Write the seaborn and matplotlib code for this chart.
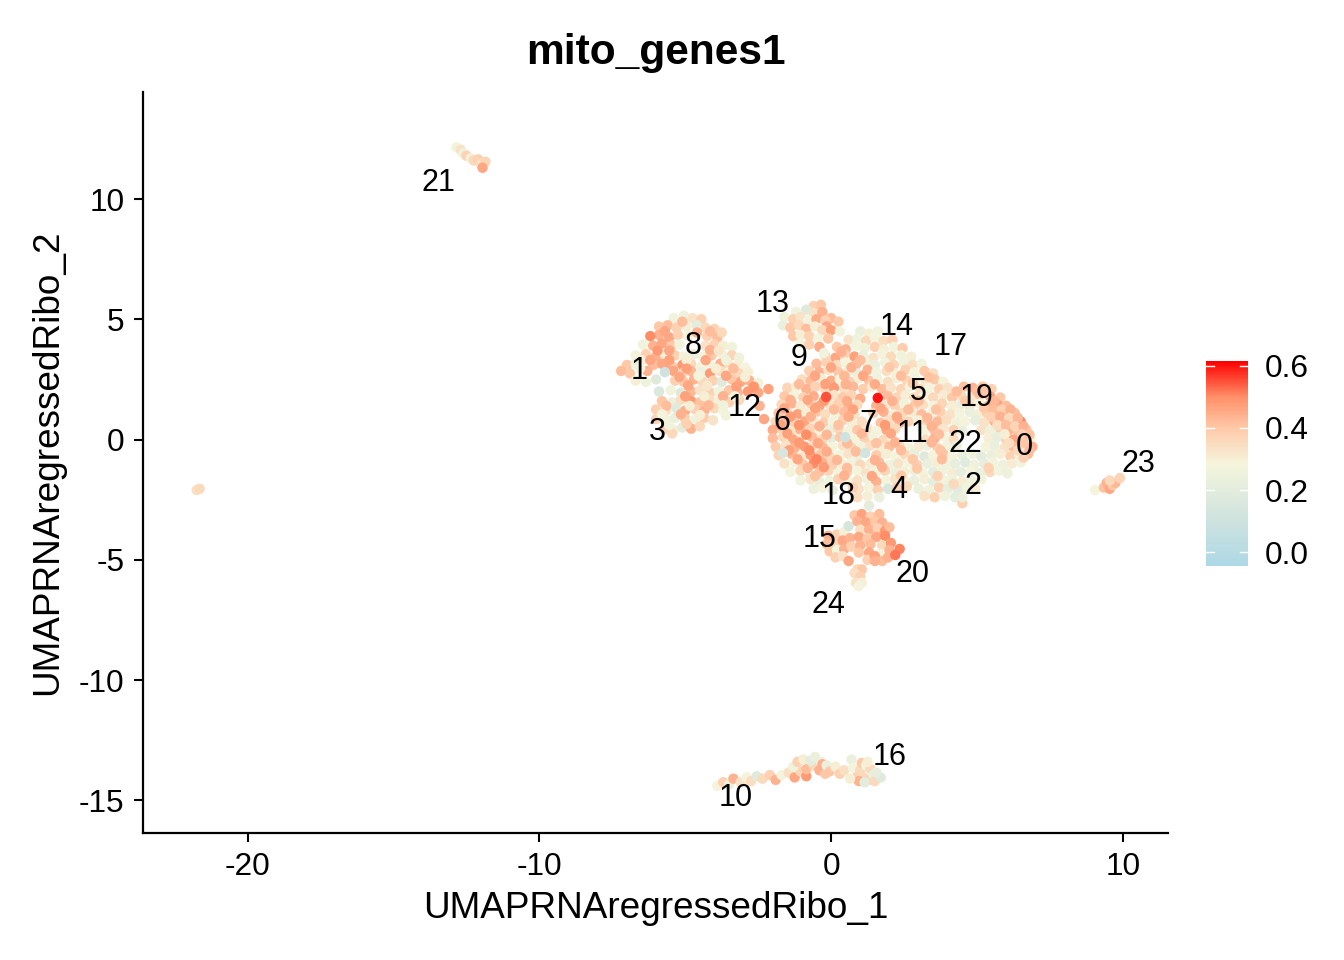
import pandas as pd
import matplotlib
matplotlib.use("Agg")
import matplotlib.pyplot as plt
from matplotlib.cm import ScalarMappable
from matplotlib.colors import LinearSegmentedColormap, Normalize
import seaborn as sns

# (umap_1, umap_2, mito score in percent)
central_blob = [
    (1.0,4.5,24),(1.3,4.4,30),(1.6,4.5,27),
    (.6,4.15,33),(.9,4.2,26),(1.2,4.1,36),(1.5,4.25,28),(1.8,4.1,35),(2.1,4.15,38),
    (.2,3.85,40),(.5,3.75,44),(.85,3.9,28),(1.15,3.8,26),(1.5,3.85,38),(1.8,3.75,30),(2.15,3.85,27),(2.45,3.8,39),
    (-.2,3.5,36),(.15,3.4,46),(.45,3.55,38),(.8,3.45,47),(1.1,3.5,24),(1.45,3.4,33),(1.75,3.55,28),(2.05,3.45,36),(2.4,3.5,27),(2.75,3.45,30),
    (-.5,3.15,42),(-.15,3.2,38),(.2,3.1,35),(.5,3.2,28),(.85,3.1,42),(1.2,3.2,30),(1.5,3.1,24),(1.85,3.2,27),(2.15,3.1,37),(2.5,3.2,26),(2.8,3.1,35),(3.1,3.15,27),
    (-.75,2.85,38),(-.4,2.8,44),(-.1,2.9,33),(.25,2.8,40),(.6,2.85,31),(.9,2.75,22),(1.25,2.9,44),(1.55,2.8,27),(1.9,2.85,34),(2.2,2.75,29),(2.55,2.9,38),(2.85,2.8,28),(3.2,2.85,40),(3.5,2.75,34),
    (-1.0,2.5,35),(-.7,2.45,42),(-.35,2.55,31),(0,2.45,45),(.3,2.5,28),(.65,2.4,38),(.95,2.55,30),(1.3,2.45,41),(1.6,2.5,26),(1.95,2.4,35),(2.25,2.55,30),(2.6,2.45,37),(2.9,2.5,27),(3.25,2.4,32),(3.55,2.5,40),(3.85,2.4,29),
    (-1.5,2.15,37),(-1.2,2.2,30),(-.85,2.1,44),(-.55,2.2,38),(-.2,2.1,36),(.1,2.15,48),(.45,2.1,34),(.75,2.2,43),(1.1,2.1,39),(1.4,2.2,31),(1.75,2.1,42),(2.05,2.15,33),(2.4,2.1,37),(2.7,2.2,27),(3.05,2.1,34),(3.35,2.15,28),(3.7,2.1,38),(4.0,2.15,33),(4.55,2.2,41),(4.85,2.15,44),(5.2,2.2,40),(5.5,2.1,38),
    (-1.6,1.8,40),(-1.25,1.85,28),(-.95,1.75,38),(-.6,1.8,45),(.1,1.85,33),(.4,1.75,40),(.7,1.85,37),(1.0,1.7,45),(1.95,1.8,42),(2.25,1.75,37),(2.55,1.85,30),(2.85,1.75,35),(3.2,1.85,29),(3.5,1.75,36),(3.85,1.85,31),(4.15,1.75,40),(4.45,1.85,36),(4.8,1.75,32),(5.1,1.85,42),(5.45,1.8,47),(5.8,1.75,40),
    (-1.7,1.45,36),(-1.35,1.5,44),(-1.05,1.4,31),(-.7,1.5,39),(-.4,1.4,46),(-.05,1.45,33),(.25,1.5,38),(.6,1.4,44),(.9,1.45,36),(1.55,1.4,44),(1.9,1.45,32),(2.2,1.4,38),(2.5,1.5,27),(2.85,1.4,40),(3.15,1.45,34),(3.5,1.4,28),(3.8,1.5,37),(4.15,1.4,30),(4.45,1.45,24),(4.75,1.4,33),(5.1,1.5,29),(5.4,1.4,45),(5.7,1.45,48),(6.0,1.4,42),
    (-1.8,1.1,41),(-1.5,1.15,34),(-1.15,1.05,47),(-.85,1.1,30),(-.5,1.15,40),(-.2,1.05,35),(.15,1.1,27),(.45,1.15,42),(.8,1.05,33),(1.45,1.1,38),(1.8,1.15,44),(2.15,1.05,30),(2.45,1.1,36),(2.8,1.15,31),(3.1,1.05,42),(3.45,1.1,26),(3.75,1.15,38),(4.1,1.05,33),(4.4,1.1,28),(4.75,1.15,24),(5.05,1.05,30),(5.35,1.1,38),(5.7,1.15,50),(6.0,1.05,46),(6.3,1.1,41),
    (-1.9,.75,36),(-1.55,.8,43),(-1.25,.7,38),(-.9,.75,46),(-.6,.8,31),(-.25,.7,39),(.05,.75,28),(.4,.8,38),(.7,.7,30),(1.05,.75,35),(1.7,.7,41),(2.0,.8,34),(2.35,.7,44),(2.65,.75,37),(3.0,.8,30),(3.3,.7,38),(3.65,.75,43),(3.95,.8,35),(4.3,.7,26),(4.6,.75,29),(4.95,.8,22),(5.25,.7,33),(5.6,.75,44),(5.9,.8,40),(6.2,.7,47),(6.5,.75,51),
    (-2.0,.4,45),(-1.7,.45,38),(-1.35,.35,33),(-1.05,.4,44),(-.7,.45,37),(-.4,.35,29),(-.05,.4,24),(.25,.45,36),(.6,.35,27),(.9,.4,40),(1.25,.45,33),(1.55,.35,28),(1.9,.4,46),(2.2,.45,36),(3.2,.4,29),(3.55,.35,41),(3.85,.45,32),(4.2,.4,38),(4.5,.35,23),(5.15,.4,33),(5.45,.35,25),(5.8,.45,38),(6.1,.4,44),(6.4,.35,41),(6.7,.4,40),
    (-2.0,.05,42),(-1.65,.1,36),(-1.3,0,46),(-1.0,.05,31),(-.65,.1,42),(-.3,0,37),(0,.05,20),(.3,.1,40),(.8,0,28),(1.15,.05,38),(1.45,.1,27),(1.8,0,36),(2.1,.05,30),(3.25,0,34),(3.55,.05,44),(3.9,.1,28),(4.2,0,35),(5.4,.05,30),(5.7,.1,22),(6.0,0,37),(6.85,.05,28),(6.5,.1,42),(6.25,0,46),
    (-1.9,-.3,39),(-1.55,-.25,33),(-1.25,-.35,44),(-.9,-.3,48),(-.6,-.25,36),(-.25,-.35,43),(.05,-.3,29),(.4,-.25,33),(.7,-.35,38),(1.05,-.3,26),(1.35,-.25,34),(1.7,-.35,30),(2.0,-.3,42),(2.35,-.25,36),(2.65,-.35,27),(3.0,-.3,31),(3.3,-.25,25),(3.65,-.35,38),(3.95,-.3,27),(4.3,-.25,24),(5.3,-.3,29),(5.6,-.25,24),(5.95,-.35,33),(6.25,-.3,42),(6.9,-.3,44),
    (-1.8,-.65,37),(-1.35,-.6,43),(-1.0,-.7,32),(-.7,-.65,47),(-.35,-.6,40),(-.05,-.7,36),(.3,-.65,28),(.6,-.6,33),(.9,-.7,24),(1.55,-.65,39),(1.9,-.6,30),(2.2,-.7,28),(2.55,-.65,36),(2.85,-.6,23),(3.2,-.7,18),(3.5,-.65,29),(3.85,-.6,40),(4.15,-.7,27),(4.5,-.65,22),(4.85,-.6,26),(5.15,-.7,20),(5.5,-.65,24),(5.8,-.6,30),(6.15,-.7,38),(6.45,-.65,29),(6.75,-.6,42),
    (-1.6,-1.0,33),(-1.25,-.95,28),(-.95,-1.05,40),(-.6,-1.0,50),(-.3,-.95,44),(.05,-1.05,38),(.35,-1.0,30),(.7,-.95,27),(1.0,-1.05,36),(1.35,-1.0,31),(1.65,-.95,42),(2.0,-1.05,26),(2.3,-1.0,33),(2.65,-.95,28),(2.95,-1.05,37),(3.3,-1.0,24),(3.6,-.95,30),(3.95,-1.05,27),(4.25,-1.0,22),(4.6,-.95,19),(4.9,-1.05,25),(5.25,-1.0,22),(5.55,-.95,28),(5.9,-1.05,25),(6.2,-1.0,31),(6.5,-.95,27),
    (-1.4,-1.35,28),(-1.05,-1.3,36),(-.75,-1.4,24),(-.4,-1.35,41),(-.1,-1.3,37),(.25,-1.4,27),(.55,-1.35,38),(.9,-1.3,29),(1.2,-1.4,33),(1.55,-1.35,26),(1.85,-1.3,37),(2.2,-1.4,24),(2.5,-1.35,30),(2.85,-1.3,25),(3.15,-1.4,28),(3.5,-1.35,20),(3.8,-1.3,26),(4.15,-1.4,31),(4.45,-1.35,22),(4.8,-1.3,28),(5.1,-1.4,24),(5.45,-1.35,36),(5.75,-1.3,27),(6.05,-1.4,25),
    (-1.05,-1.7,27),(-.7,-1.65,33),(-.4,-1.75,22),(-.05,-1.7,26),(.25,-1.65,38),(.6,-1.75,28),(.9,-1.7,34),(1.25,-1.65,26),(1.55,-1.75,44),(1.9,-1.7,28),(2.2,-1.65,33),(2.55,-1.75,27),(2.85,-1.7,24),(3.2,-1.65,30),(3.5,-1.75,21),(3.85,-1.7,27),(4.15,-1.65,25),(4.5,-1.75,31),(4.8,-1.7,26),(5.15,-1.65,27),
    (-.6,-2.05,25),(-.3,-2.0,29),(.05,-2.1,22),(.95,-2.05,33),(1.3,-2.0,28),(1.6,-2.1,38),(1.95,-2.05,15),(2.25,-2.0,38),(3.0,-2.05,24),(3.35,-2.1,26),(3.7,-2.0,38),(4.0,-2.05,22),(4.35,-2.1,20),(4.65,-2.0,27),(4.95,-2.05,30),
    (.9,-2.4,35),(1.25,-2.35,30),(1.65,-2.4,24),(3.2,-2.35,33),(3.55,-2.4,38),(3.9,-2.35,26),(4.25,-2.4,21),(4.5,-2.65,38),(4.5,-2.4,24),(1.3,-2.75,20),
]
# warmer cells sitting in the gaps of the central blob
central_warm = [
    (.35,3.65,44),(1.0,3.3,42),(.0,3.0,46),(.7,3.0,44),(2.0,3.0,40),(-.55,2.65,46),(.45,2.65,43),(1.1,2.65,46),(2.4,2.65,42),(3.35,2.6,41),
    (-1.1,2.3,42),(-.2,2.3,47),(.5,2.3,44),(1.5,2.3,45),(2.8,2.35,40),(4.3,2.0,42),(5.0,2.0,42),(5.35,1.95,40),
    (-1.4,1.65,44),(-.8,1.65,46),(-.25,1.6,48),(.55,1.6,45),(2.1,1.6,44),(3.0,1.6,42),(4.6,1.6,40),(5.6,1.6,43),(5.25,1.3,40),
    (-1.6,1.3,46),(-.55,1.3,47),(.1,1.25,42),(.75,1.25,47),(1.7,1.3,46),(2.65,1.25,42),(3.6,1.25,41),(5.55,1.25,42),(5.85,1.25,38),(6.15,1.25,44),
    (-1.4,.95,48),(-.7,.95,44),(.6,.95,45),(2.25,.95,46),(3.3,.9,43),(5.5,.95,38),(5.8,.95,44),(6.1,.9,36),(6.4,.9,43),
    (-1.75,.6,47),(-1.1,.6,49),(-.4,.55,44),(.25,.6,41),(1.85,.6,48),(3.45,.55,44),(5.7,.6,34),(6.0,.6,42),(6.3,.55,37),(6.6,.55,44),
    (-1.5,.25,47),(-.85,.2,50),(-.15,.2,43),(1.05,.25,43),(2.05,.25,46),(3.7,.22,42),(5.95,.22,30),(6.55,.22,38),(6.8,.2,41),
    (-1.1,-.12,48),(-.45,-.15,46),(.55,-.15,42),(1.55,-.15,41),(2.2,-.12,44),(3.45,-.12,43),(6.1,-.15,34),(6.6,-.15,40),(6.8,-.45,42),
    (-1.45,-.45,47),(-.75,-.45,50),(-.15,-.5,45),(.85,-.5,42),(2.4,-.45,42),(3.75,-.45,41),(6.4,-.45,36),(6.6,-.75,38),
    (-1.15,-.82,46),(-.5,-.82,51),(.2,-.85,43),(1.5,-.85,44),(2.8,-.82,40),(3.8,-.82,42),
    (-.8,-1.18,44),(-.25,-1.15,48),(.55,-1.18,42),(1.75,-1.15,44),(2.95,-1.2,40),(5.4,-1.18,38),
    (-.55,-1.52,41),(.45,-1.5,44),(1.4,-1.52,46),(2.4,-1.5,40),(3.65,-1.52,38),(.75,-2.0,38),(2.6,-1.95,36),(4.2,-1.85,36),
]
left_blob = [
    (-5.4,5.05,27),(-5.05,5.15,25),(-4.75,5.05,33),(-4.45,5.0,38),
    (-5.9,4.7,40),(-5.6,4.75,42),(-5.3,4.65,38),(-4.95,4.7,30),(-4.6,4.75,20),(-4.3,4.65,36),(-4.0,4.6,37),
    (-5.9,4.35,44),(-5.55,4.25,46),(-5.25,4.35,38),(-4.9,4.3,28),(-4.25,4.3,38),(-3.9,4.25,42),(-3.75,4.45,36),
    (-6.45,3.95,27),(-6.1,3.9,44),(-5.8,4.0,46),(-5.45,3.9,40),(-5.2,3.95,27),(-4.3,3.9,33),(-4.0,3.95,38),(-3.7,3.9,30),(-3.4,3.85,26),
    (-6.7,3.5,28),(-6.35,3.55,38),(-6.0,3.45,44),(-5.7,3.55,30),(-5.35,3.5,38),(-5.05,3.45,27),(-4.7,3.55,24),(-4.4,3.45,27),(-4.1,3.5,40),(-3.75,3.55,26),(-3.4,3.5,37),(-3.15,3.4,25),
    (-7.0,3.1,40),(-6.7,3.15,26),(-6.1,3.1,42),(-5.8,3.15,46),(-5.45,3.05,40),(-5.1,3.1,48),(-4.8,3.15,36),(-4.45,3.05,28),(-4.15,3.1,27),(-3.8,3.15,44),(-3.5,3.05,36),(-3.2,3.1,30),(-2.95,3.0,28),
    (-7.2,2.85,42),(-6.9,2.75,40),(-6.3,2.85,44),(-5.4,2.85,46),(-5.1,2.75,38),(-4.8,2.85,43),(-4.45,2.8,25),(-4.15,2.75,48),(-3.8,2.85,34),(-3.5,2.8,28),(-3.15,2.75,36),(-2.85,2.8,30),
    (-6.7,2.45,30),(-6.35,2.4,26),(-6.0,2.5,18),(-5.35,2.45,38),(-5.05,2.4,40),(-4.7,2.5,44),(-4.4,2.4,36),(-4.05,2.45,38),(-3.75,2.4,18),(-3.4,2.5,40),(-3.1,2.4,46),(-2.8,2.45,44),(-2.5,2.35,27),
    (-5.9,2.0,16),(-5.5,2.05,27),(-5.15,1.95,18),(-4.8,2.0,43),(-4.5,2.05,33),(-4.15,1.95,38),(-3.85,2.0,27),(-3.5,2.05,40),(-3.2,1.95,44),(-2.85,2.0,48),(-2.5,1.95,46),(-2.15,2.1,47),
    (-5.8,1.6,40),(-5.45,1.55,24),(-5.15,1.65,35),(-4.8,1.6,48),(-4.5,1.55,41),(-4.15,1.65,34),(-3.85,1.6,30),(-3.5,1.55,38),(-3.15,1.65,36),(-2.45,1.4,44),
    (-6.0,1.25,38),(-5.65,1.2,33),(-5.3,1.3,18),(-5.0,1.2,45),(-4.65,1.25,38),(-4.35,1.2,44),(-4.0,1.3,36),(-3.7,1.2,28),(-2.3,.85,46),
    (-6.0,.85,37),(-5.65,.8,27),(-5.35,.9,24),(-5.0,.85,38),(-4.7,.8,26),(-4.35,.9,39),(-4.05,.8,33),(-3.6,1.0,27),
    (-5.7,.45,38),(-5.4,.4,30),(-5.1,.5,20),(-4.8,.45,44),(-4.5,.55,36),
    (-5.45,.25,36),
]
left_warm = [
    (-5.7,4.5,46),(-5.1,4.9,42),(-4.6,4.45,44),(-4.15,4.5,42),(-5.95,3.7,48),(-5.55,3.7,46),(-4.15,3.72,44),(-3.85,3.7,32),(-6.5,3.3,30),(-6.2,3.3,46),(-5.55,3.3,47),(-4.95,3.3,30),(-4.3,3.3,46),(-3.6,3.3,26),
    (-6.55,2.95,28),(-5.65,2.95,46),(-4.95,2.95,47),(-3.95,2.95,30),(-3.35,2.95,42),(-5.2,2.6,46),(-4.55,2.65,28),(-3.6,2.65,46),(-2.95,2.6,30),(-4.9,2.25,46),(-4.25,2.25,32),(-3.25,2.2,47),(-2.65,2.2,49),
    (-5.0,1.8,47),(-4.35,1.8,30),(-3.7,1.8,44),(-3.3,1.8,28),(-5.65,1.4,42),(-4.85,1.4,30),(-4.2,1.42,43),(-3.7,1.42,26),(-5.8,1.05,28),(-5.15,1.05,44),(-4.5,1.02,30),(-5.55,.6,26),(-4.95,.65,38),
]
top_patch = [
    (-.6,5.55,38),(-.35,5.6,40),(-.85,5.4,18),(-1.2,5.3,27),(-.6,5.25,33),(-.3,5.3,44),(0,5.05,42),
    (-1.6,5.1,26),(-1.3,5.0,38),(-1.05,5.1,33),(-.8,4.95,27),(-.5,5.0,45),(-.2,4.95,38),(-.15,4.7,46),(.25,4.9,40),
    (-1.65,4.75,24),(-1.4,4.65,40),(-1.1,4.75,36),(-.85,4.6,42),(-.55,4.7,30),(-.3,4.55,36),(0,4.55,47),(.3,4.5,27),
    (-1.3,4.3,40),(-1.05,4.35,30),(-.75,4.3,38),(-.45,4.2,28),(-.1,4.2,40),(-1.05,4.0,27),(-.75,3.95,38),(-.4,3.85,45),(-.25,3.6,27),
]
lower_patch = [
    (-.1,-4.0,44),(.2,-3.95,38),(.45,-3.85,30),(.6,-3.6,14),(-.15,-4.35,42),(.15,-4.3,37),(.4,-4.2,46),(.65,-4.1,44),
    (-.05,-4.65,40),(.2,-4.6,28),(.45,-4.55,44),(.7,-4.45,38),(.15,-4.9,38),(.4,-4.85,33),(.6,-5.05,46),
    (.8,-3.15,40),(1.05,-3.1,47),(1.35,-3.2,38),(1.65,-3.1,42),(.9,-3.4,44),(1.2,-3.45,46),(1.5,-3.4,40),(1.75,-3.45,44),
    (1.0,-3.75,34),(1.3,-3.75,44),(1.6,-3.7,38),(1.85,-3.8,48),(2.0,-3.65,42),(.95,-4.05,46),(1.25,-4.1,40),(1.55,-4.05,46),(1.85,-4.0,50),
    (1.0,-4.4,44),(1.35,-4.35,42),(1.75,-4.4,36),(2.05,-4.3,48),(.95,-4.7,40),(1.3,-4.7,46),(1.7,-4.75,27),(2.0,-4.6,44),(2.35,-4.55,51),
    (1.25,-5.0,38),(1.5,-4.85,47),(1.75,-5.05,42),(1.95,-4.9,44),(1.5,-5.05,44),
    (.9,-5.4,36),(1.05,-5.4,40),(.8,-5.55,34),(1.0,-5.7,38),(.85,-5.95,33),(1.05,-5.95,30),(.95,-6.1,28),
]
bottom_strip = [
    (-3.9,-14.4,28),(-3.7,-14.25,38),(-3.5,-14.35,24),(-3.35,-14.1,44),(-3.1,-14.25,33),(-2.9,-14.05,28),(-2.75,-14.2,35),(-2.55,-14.0,18),(-2.35,-14.1,36),(-2.1,-13.95,38),(-1.9,-14.15,44),
    (-1.7,-13.95,28),(-1.45,-13.85,34),(-1.25,-14.05,46),(-1.05,-13.8,37),(-.85,-14.0,48),(-.85,-13.7,42),(-.6,-13.55,36),(-.4,-13.75,44),(-.2,-13.9,40),(-.35,-13.4,27),
    (-1.3,-13.6,26),(-1.15,-13.4,38),(-.95,-13.3,30),(-.7,-13.35,20),(-.55,-13.2,24),(-.3,-13.5,44),(-.15,-13.55,24),(-.05,-13.8,40),(.15,-13.6,30),(.3,-13.9,38),(.45,-13.75,34),(.7,-13.3,24),
    (.9,-14.0,38),(.75,-13.65,28),(1.0,-13.75,36),(1.05,-13.45,40),(1.2,-13.55,27),(1.35,-13.7,36),(1.1,-14.05,36),(1.3,-14.15,38),(1.45,-13.95,24),(.95,-14.2,44),(1.15,-14.25,20),(1.5,-14.2,36),(1.7,-14.05,18),(1.55,-13.85,22),(1.25,-13.4,30),(.65,-14.1,30),
]
north_tip = [
    (-12.85,12.15,28),(-12.7,12.05,33),(-12.6,11.9,25),(-12.5,11.8,37),(-12.35,11.7,30),(-12.25,11.6,36),(-12.1,11.65,38),(-12.0,11.45,34),(-11.85,11.55,37),(-11.95,11.3,46),
]
east_tip = [
    (9.05,-2.1,28),(9.35,-2.0,41),(9.45,-1.8,44),(9.55,-2.05,46),(9.65,-1.9,40),(9.75,-1.8,43),(9.9,-1.6,37),(9.55,-1.7,36),
]
lone_cell = [(-21.75,-2.1,34),(-21.65,-2.05,36)]
# rare extreme cells, drawn last as in the picture they sit on top
outliers = [
    (-.17,1.77,55),(1.6,1.73,60),(2.2,-4.8,52),(-6.2,4.3,50),
    (-5.7,2.8,10),(.48,.1,10),(1.17,-.56,12),(-1.65,-.56,15),
]

cluster_ids = [str(i) for i in range(25)]
label_x = [6.62,-6.58,4.87,-5.97,2.33,2.98,-1.68,1.27,-4.73,-1.10,-3.26,2.78,-2.95,-1.99,2.23,-.38,1.99,4.11,.27,4.97,2.78,-13.47,4.59,10.52,-.10]
label_y = [-.30,2.86,-1.92,.33,-2.09,1.99,.74,.66,3.90,3.40,-14.89,.24,1.32,5.65,4.69,-4.12,-13.19,3.86,-2.34,1.74,-5.58,10.68,-.17,-1.01,-6.87]

plt.rcParams["font.family"] = ["Liberation Sans", "DejaVu Sans"]
plt.rcParams["axes.unicode_minus"] = False

cells = (central_blob + central_warm + left_blob + left_warm + top_patch + lower_patch
         + bottom_strip + north_tip + east_tip + lone_cell + outliers)
df = pd.DataFrame(cells, columns=["x", "y", "pct"])
df["mito"] = df["pct"] / 100

# lightblue - beige - red, with the warm half passing through peach and salmon
vmin, vmax = -0.045, 0.616
def pos(v):
    return (v - vmin) / (vmax - vmin)
cmap = LinearSegmentedColormap.from_list("mito", [
    (0, "#ADD8E6"), (pos(0.12), "#D2E4DE"), (pos(0.285), "#F5F5DC"),
    (pos(0.4), "#FFC9A9"), (pos(0.5), "#FF9068"), (1, "#FF0000"),
])
norm = Normalize(vmin, vmax)

fig = plt.figure(figsize=(6.72, 4.8), dpi=200)
W, H = 1344, 960
ax = fig.add_axes([143 / W, (H - 833) / H, (1168 - 143) / W, (833 - 92) / H])
sns.scatterplot(data=df, x="x", y="y", hue="mito", palette=cmap, hue_norm=norm,
                s=14, linewidth=0, legend=False, ax=ax)
ax.set_xlim(-23.59, 11.55)
ax.set_ylim(-16.36, 14.45)
ax.set_xticks([-20, -10, 0, 10])
ax.set_yticks([-15, -10, -5, 0, 5, 10])
ax.tick_params(labelsize=11.4, length=3.2, width=0.75, pad=3.5)
sns.despine(ax=ax)
for side in ["left", "bottom"]:
    ax.spines[side].set_linewidth(0.8)
ax.set_xlabel("UMAPRNAregressedRibo_1", fontsize=13.3, labelpad=3.5)
ax.set_ylabel("UMAPRNAregressedRibo_2", fontsize=13.3, labelpad=5)
ax.set_title("mito_genes1", fontsize=15.3, fontweight="bold", pad=10)

for cid, lx, ly in zip(cluster_ids, label_x, label_y):
    ax.text(lx, ly, cid, fontsize=11, ha="center", va="center", color="black")

cax = fig.add_axes([1206 / W, (H - 566) / H, 42 / W, 205 / H])
cb = fig.colorbar(ScalarMappable(norm=norm, cmap=cmap), cax=cax)
cb.outline.set_visible(False)
cb.set_ticks([0, 0.2, 0.4, 0.6])
cb.ax.tick_params(length=0, labelsize=11.4, pad=6)
for t in [0, 0.2, 0.4, 0.6]:
    cax.plot([0, 0.2], [t, t], color="white", lw=0.5)
    cax.plot([0.8, 1], [t, t], color="white", lw=0.5)

plt.savefig("out.png", dpi=200)
plt.close()
